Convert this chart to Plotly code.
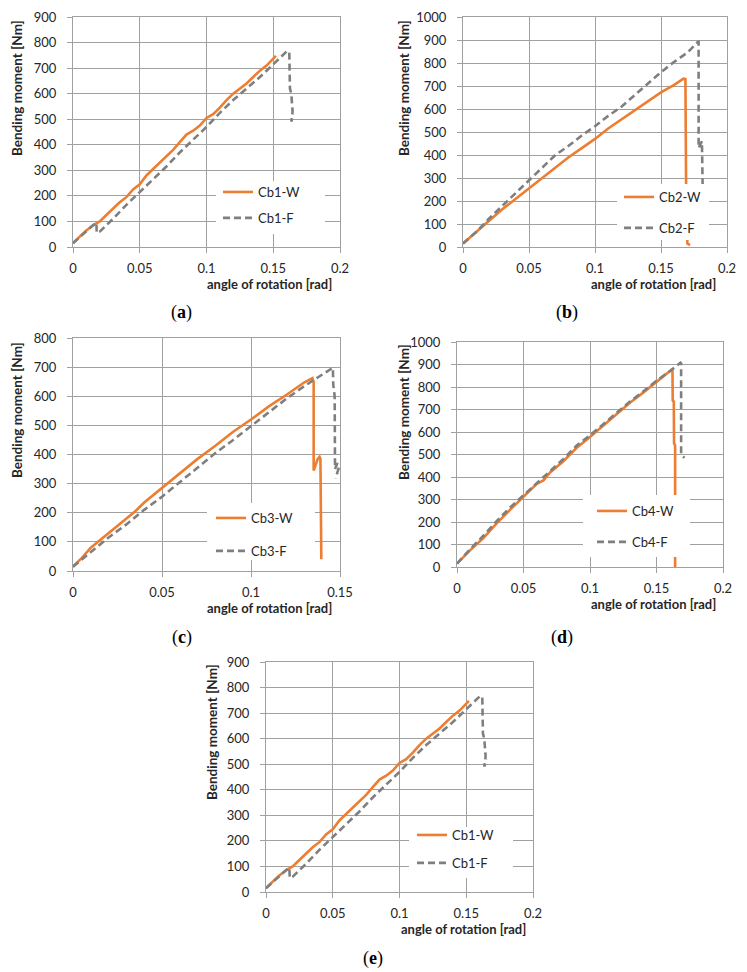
import plotly.graph_objects as go

W, H = 747, 972

# ---------------- data ----------------
# (a) and (e): Cb1
cb1_w_x = [0, 0.005, 0.01, 0.015, 0.02, 0.025, 0.03, 0.035, 0.04, 0.045, 0.05, 0.055, 0.06, 0.065,
           0.07, 0.075, 0.08, 0.085, 0.09, 0.095, 0.1, 0.105, 0.11, 0.115, 0.12, 0.125, 0.13, 0.135,
           0.14, 0.145, 0.15, 0.152]
cb1_w_y = [15, 40, 65, 85, 100, 125, 150, 175, 195, 225, 245, 280, 305, 330,
           355, 380, 410, 440, 455, 475, 505, 520, 545, 575, 600, 620, 640, 665,
           690, 710, 735, 748]
cb1_f_x = [0, 0.005, 0.01, 0.015, 0.0175, 0.0178, 0.02, 0.025, 0.03, 0.04, 0.05, 0.06, 0.07, 0.08,
           0.09, 0.1, 0.11, 0.12, 0.13, 0.14, 0.15, 0.155, 0.16, 0.162, 0.162, 0.1625, 0.1635,
           0.1645, 0.1635, 0.165]
cb1_f_y = [15, 40, 62, 85, 95, 55, 60, 85, 110, 165, 215, 265, 315, 370,
           420, 470, 525, 575, 620, 665, 715, 740, 765, 765, 700, 620, 600,
           530, 490, 520]

# (b): Cb2
cb2_w_x = [0, 0.01, 0.02, 0.03, 0.04, 0.05, 0.06, 0.07, 0.08, 0.09, 0.1, 0.11, 0.12, 0.13, 0.14,
           0.15, 0.16, 0.165, 0.167, 0.1685, 0.1685, 0.169, 0.169, 0.1695, 0.170, 0.172]
cb2_w_y = [15, 65, 115, 165, 210, 255, 300, 345, 390, 430, 470, 515, 555, 595, 635,
           672, 705, 725, 732, 730, 480, 470, 280, 100, 15, 8]
cb2_f_x = [0, 0.01, 0.02, 0.03, 0.04, 0.05, 0.06, 0.07, 0.08, 0.09, 0.1, 0.11, 0.12, 0.13, 0.14,
           0.15, 0.16, 0.17, 0.178, 0.1785, 0.1785, 0.18, 0.181, 0.1815, 0.182]
cb2_f_y = [15, 65, 125, 180, 235, 290, 345, 400, 440, 485, 525, 570, 610, 660, 710,
           760, 805, 845, 892, 892, 430, 445, 460, 280, 200]

# (c): Cb3
cb3_w_x = [0, 0.005, 0.01, 0.015, 0.02, 0.025, 0.03, 0.035, 0.04, 0.045, 0.05, 0.055, 0.06, 0.07,
           0.08, 0.09, 0.1, 0.11, 0.12, 0.13, 0.1345, 0.1352, 0.1352, 0.136, 0.1375, 0.1385,
           0.139, 0.1395]
cb3_w_y = [15, 45, 80, 105, 132, 155, 180, 205, 235, 260, 288, 312, 335, 385,
           430, 478, 520, 565, 605, 648, 662, 650, 345, 362, 385, 392,
           385, 40]
cb3_f_x = [0, 0.01, 0.02, 0.03, 0.04, 0.05, 0.06, 0.07, 0.08, 0.09, 0.1, 0.11, 0.12, 0.13, 0.135,
           0.14, 0.146, 0.1462, 0.147, 0.1472, 0.1485, 0.1495, 0.1475]
cb3_f_y = [15, 65, 115, 160, 210, 255, 305, 355, 405, 450, 497, 545, 592, 635, 655,
           672, 698, 640, 600, 350, 370, 358, 318]

# (d): Cb4
cb4_w_x = [0, 0.01, 0.02, 0.03, 0.04, 0.05, 0.06, 0.065, 0.07, 0.08, 0.09, 0.1, 0.11, 0.12, 0.13,
           0.14, 0.15, 0.16, 0.162, 0.1622, 0.163, 0.1632, 0.164, 0.164, 0.164]
cb4_w_y = [15, 75, 130, 195, 255, 312, 370, 385, 420, 470, 530, 578, 630, 680, 730,
           775, 822, 870, 880, 740, 735, 550, 540, 300, 0]
cb4_f_x = [0, 0.01, 0.02, 0.03, 0.04, 0.05, 0.06, 0.07, 0.08, 0.09, 0.1, 0.11, 0.12, 0.13, 0.14,
           0.15, 0.16, 0.168, 0.1685, 0.1685, 0.171]
cb4_f_y = [15, 80, 140, 205, 265, 318, 370, 425, 480, 540, 585, 635, 685, 735, 780,
           828, 870, 908, 905, 500, 485]

# tick labels
x_ticks_02 = [0, 0.05, 0.1, 0.15, 0.2]
x_ticklabels_02 = ["0", "0.05", "0.1", "0.15", "0.2"]
x_ticks_015 = [0, 0.05, 0.1, 0.15]
x_ticklabels_015 = ["0", "0.05", "0.1", "0.15"]
y_ticks_900 = list(range(0, 901, 100))
y_ticks_1000 = list(range(0, 1001, 100))
y_ticks_800 = list(range(0, 801, 100))

series_names = {"a": ("Cb1-W", "Cb1-F"), "b": ("Cb2-W", "Cb2-F"), "c": ("Cb3-W", "Cb3-F"),
                "d": ("Cb4-W", "Cb4-F"), "e": ("Cb1-W", "Cb1-F")}
panel_letters = ["a", "b", "c", "d", "e"]

# ---------------- style / layout ----------------
ORANGE = "#ED7D31"
GRAY = "#7F7F7F"
GRID = "#A0A0A0"
TXT = "#262626"
FONT = "Lato"


def px_x(x):
    return x / W


def px_y(y):
    return 1 - y / H


panels = [
    dict(key="a", data=(cb1_w_x, cb1_w_y, cb1_f_x, cb1_f_y), box=(73, 340, 17, 247),
         xr=0.2, xt=(x_ticks_02, x_ticklabels_02), yt=y_ticks_900,
         leg=(216, 325, 181, 234), legpos=(218, 177), gap=6,
         ytitle=(17, 88), xtitle=(334, 284), lab=(181, 312)),
    dict(key="b", data=(cb2_w_x, cb2_w_y, cb2_f_x, cb2_f_y), box=(463, 727, 17, 247),
         xr=0.2, xt=(x_ticks_02, x_ticklabels_02), yt=y_ticks_1000,
         leg=(617, 709, 184, 240), legpos=(619, 182), gap=11,
         ytitle=(404, 88), xtitle=(718, 284), lab=(567, 312)),
    dict(key="c", data=(cb3_w_x, cb3_w_y, cb3_f_x, cb3_f_y), box=(73, 340, 338, 571),
         xr=0.15, xt=(x_ticks_015, x_ticklabels_015), yt=y_ticks_800,
         leg=(207, 315, 503, 560), legpos=(211, 503), gap=13,
         ytitle=(17, 410), xtitle=(334, 608), lab=(182, 637)),
    dict(key="d", data=(cb4_w_x, cb4_w_y, cb4_f_x, cb4_f_y), box=(457, 723, 342, 567),
         xr=0.2, xt=(x_ticks_02, x_ticklabels_02), yt=y_ticks_1000,
         leg=(583, 690, 495, 557), legpos=(592, 496), gap=11,
         ytitle=(404, 412), xtitle=(718, 604), lab=(562, 637)),
    dict(key="e", data=(cb1_w_x, cb1_w_y, cb1_f_x, cb1_f_y), box=(266, 533, 662, 892),
         xr=0.2, xt=(x_ticks_02, x_ticklabels_02), yt=y_ticks_900,
         leg=(409, 513, 827, 878), legpos=(412, 820), gap=8,
         ytitle=(212, 732), xtitle=(528, 929), lab=(373, 958)),
]

fig = go.Figure()
annotations = []
shapes = []
layout = {}

for i, p in enumerate(panels):
    n = i + 1
    sfx = "" if n == 1 else str(n)
    xa, ya = "x" + sfx, "y" + sfx
    lg = "legend" + sfx
    wx, wy, fx, fy = p["data"]
    nw, nf = series_names[p["key"]]
    fig.add_trace(go.Scatter(x=wx, y=wy, mode="lines", name=nw, xaxis=xa, yaxis=ya,
                             line=dict(color=ORANGE, width=2.6), legend=lg,
                             legendgroup=p["key"] + "w"))
    fig.add_trace(go.Scatter(x=fx, y=fy, mode="lines", name=nf, xaxis=xa, yaxis=ya,
                             line=dict(color=GRAY, width=2.6, dash="7px,4px"), legend=lg,
                             legendgroup=p["key"] + "f"))
    l, r, t, b = p["box"]
    common = dict(showgrid=True, gridcolor=GRID, gridwidth=1, showline=True, linecolor=GRID,
                  linewidth=1, mirror=True, ticks="outside", ticklen=5, tickcolor=GRID,
                  zeroline=False, tickfont=dict(family=FONT, size=13, color=TXT))
    layout["xaxis" + sfx] = dict(common, domain=[px_x(l), px_x(r)], range=[0, p["xr"]],
                                 tickvals=p["xt"][0], ticktext=p["xt"][1], anchor=ya,
                                 ticklabelstandoff=4)
    layout["yaxis" + sfx] = dict(common, domain=[px_y(b), px_y(t)],
                                 range=[0, p["yt"][-1]], tickvals=p["yt"], anchor=xa,
                                 ticklabelstandoff=8)
    ll, lr, lt, lb = p["leg"]
    shapes.append(dict(type="rect", xref="paper", yref="paper", x0=px_x(ll), x1=px_x(lr),
                       y0=px_y(lb), y1=px_y(lt), fillcolor="white", line=dict(width=0),
                       layer="above"))
    lpx, lpy = p["legpos"]
    layout[lg] = dict(x=px_x(lpx), y=px_y(lpy), xanchor="left", yanchor="top",
                      bgcolor="rgba(0,0,0,0)", borderwidth=0,
                      tracegroupgap=p["gap"], font=dict(family=FONT, size=13, color=TXT))
    yx, yy = p["ytitle"]
    annotations.append(dict(text="<b>Bending moment [Nm]</b>", xref="paper", yref="paper",
                            x=px_x(yx), y=px_y(yy), textangle=-90, showarrow=False,
                            xanchor="center", yanchor="middle",
                            font=dict(family=FONT, size=13.5, color=TXT)))
    tx, ty = p["xtitle"]
    annotations.append(dict(text="<b>angle of rotation [rad]</b>", xref="paper", yref="paper",
                            x=px_x(tx), y=px_y(ty), showarrow=False, xanchor="right",
                            yanchor="middle", font=dict(family=FONT, size=13, color=TXT)))
    lx, ly = p["lab"]
    annotations.append(dict(text="(<b>%s</b>)" % panel_letters[i], xref="paper", yref="paper",
                            x=px_x(lx), y=px_y(ly), showarrow=False, xanchor="center",
                            yanchor="middle",
                            font=dict(family="Liberation Serif", size=18, color="#000000")))

fig.update_layout(**layout)
fig.update_layout(width=W, height=H, margin=dict(l=0, r=0, t=0, b=0, autoexpand=False),
                  paper_bgcolor="white", plot_bgcolor="white", showlegend=True,
                  annotations=annotations, shapes=shapes)

fig.write_html("out.html", config={"displayModeBar": False},
               post_script="document.body.style.margin='0';document.body.style.overflow='hidden';")
